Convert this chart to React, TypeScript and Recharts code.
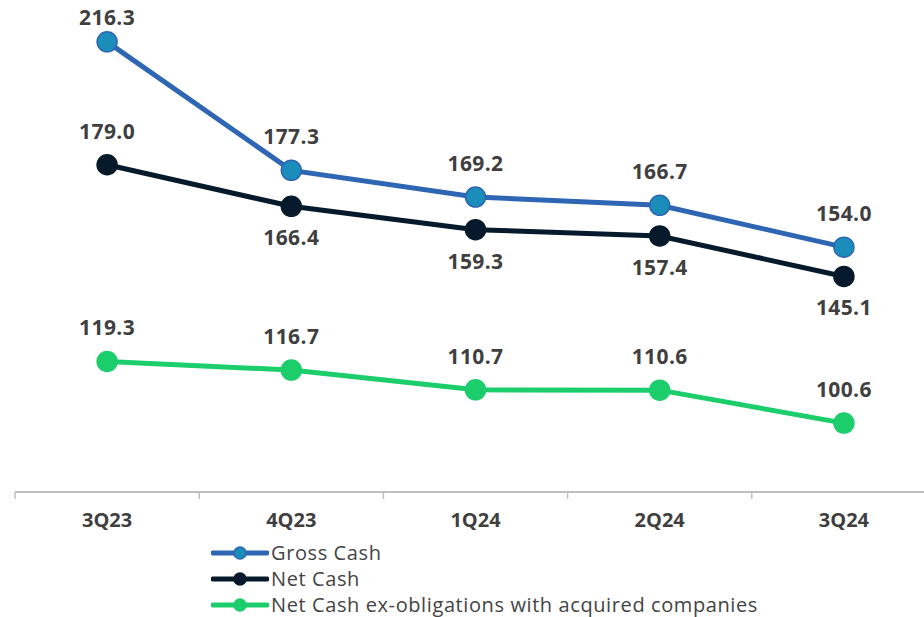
import { LabelList, Legend, Line, LineChart, XAxis, YAxis } from 'recharts';

const quarters = ['3Q23', '4Q23', '1Q24', '2Q24', '3Q24'];
const grossCash = [216.3, 177.3, 169.2, 166.7, 154.0];
const netCash = [179.0, 166.4, 159.3, 157.4, 145.1];
const netCashExObligations = [119.3, 116.7, 110.7, 110.6, 100.6];

// vertical offset of each value label from its point (px, negative = above)
const grossLabelDy = [-25, -34, -34, -34, -34];
const netLabelDy = [-34, 31, 31, 31, 31];
const netExLabelDy = [-34, -34, -34, -34, -34];

const data = quarters.map((q, i) => ({
  idx: i,
  quarter: q,
  gross: grossCash[i],
  net: netCash[i],
  netEx: netCashExObligations[i]
}));

const series = [
  { key: 'gross', name: 'Gross Cash', stroke: '#2e66b4', dotFill: '#1a8dba', labelDy: grossLabelDy },
  { key: 'net', name: 'Net Cash', stroke: '#061a2b', dotFill: '#061a2b', labelDy: netLabelDy },
  {
    key: 'netEx',
    name: 'Net Cash ex-obligations with acquired companies',
    stroke: '#1ccd6c',
    dotFill: '#1ccd6c',
    labelDy: netExLabelDy
  }
];

const boundaryTicks = [-0.5, 0.5, 1.5, 2.5, 3.5, 4.5];
const centerTicks = [0, 1, 2, 3, 4];

const labelFont = {
  fontFamily: '"Open Sans", Lato, sans-serif',
  fontWeight: 700,
  fontSize: 21,
  letterSpacing: 0.4,
  fill: '#3f3f3f'
};

function makeLabel(dys: number[]) {
  return (props: any) => {
    const { x, y, value, index } = props;
    return (
      <text x={x} y={y + dys[index]} textAnchor="middle" dominantBaseline="central" {...labelFont}>
        {Number(value).toFixed(1)}
      </text>
    );
  };
}

function LegendBox() {
  return (
    <div
      style={{
        fontFamily: '"Open Sans", Lato, sans-serif',
        fontSize: 20,
        letterSpacing: 0.6,
        color: '#444',
        lineHeight: '26px'
      }}
    >
      {series.map((s) => (
        <div key={s.key} style={{ display: 'flex', alignItems: 'center' }}>
          <svg width={58} height={16} style={{ marginRight: 2 }}>
            <line x1={2} y1={8} x2={56} y2={8} stroke={s.stroke} strokeWidth={5} strokeLinecap="round" />
            <circle cx={29} cy={8} r={6} fill={s.dotFill} stroke={s.stroke} strokeWidth={1.5} />
          </svg>
          <span>{s.name}</span>
        </div>
      ))}
    </div>
  );
}

export default function App() {
  return (
    <div style={{ position: 'fixed', left: 0, top: 0, width: 924, height: 617, overflow: 'hidden', background: '#fff' }}>
      <LineChart width={940} height={617} data={data} margin={{ top: 0, right: 4, bottom: 124, left: 15 }}>
        <XAxis
          xAxisId="frame"
          type="number"
          dataKey="idx"
          domain={[-0.5, 4.5]}
          ticks={boundaryTicks}
          height={1}
          tickSize={7}
          tickFormatter={() => ''}
          axisLine={{ stroke: '#bfbfbf', strokeWidth: 2 }}
          tickLine={{ stroke: '#bfbfbf', strokeWidth: 1.5 }}
        />
        <XAxis
          type="number"
          dataKey="idx"
          domain={[-0.5, 4.5]}
          ticks={centerTicks}
          height={1}
          tickSize={0}
          tickMargin={22}
          axisLine={false}
          tickLine={false}
          tickFormatter={(i: number) => quarters[i]}
          tick={{ fill: '#3f3f3f', fontSize: 20, fontWeight: 700, fontFamily: '"Open Sans", sans-serif' }}
        />
        <YAxis hide domain={[80, 229]} />
        <Legend
          verticalAlign="middle"
          align="center"
          layout="horizontal"
          content={() => <LegendBox />}
          wrapperStyle={{ left: 211, top: 540, width: 'auto', height: 'auto' }}
        />
        {series.map((s) => (
          <Line
            key={s.key}
            dataKey={s.key}
            name={s.name}
            stroke={s.stroke}
            strokeWidth={5}
            dot={{ r: 10, fill: s.dotFill, stroke: s.stroke, strokeWidth: 1.5 }}
            activeDot={false}
            isAnimationActive={false}
          >
            <LabelList dataKey={s.key} content={makeLabel(s.labelDy)} />
          </Line>
        ))}
      </LineChart>
    </div>
  );
}
